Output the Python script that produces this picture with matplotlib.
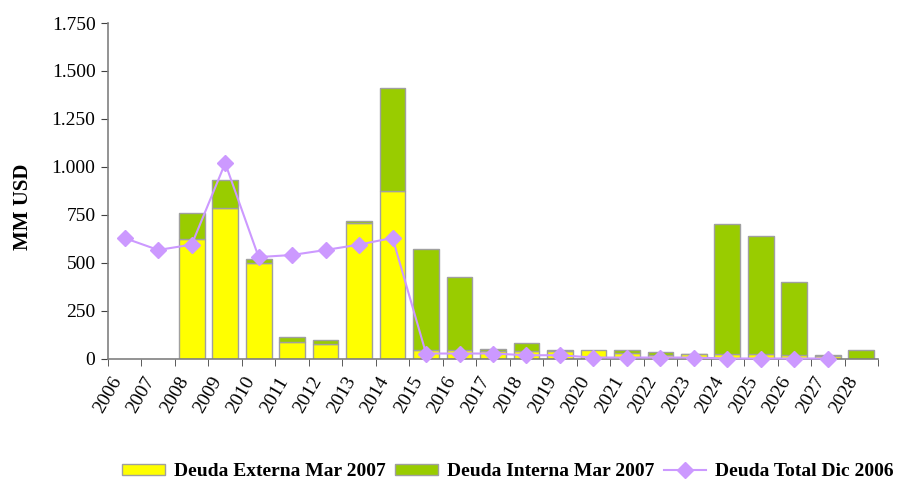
import numpy as np
import matplotlib.pyplot as plt
from matplotlib.ticker import FixedLocator, FuncFormatter

plt.rcParams['font.family'] = ['Liberation Serif', 'DejaVu Serif']

years = [str(y) for y in range(2006, 2029)]
# Deuda Externa Mar 2007 (MM USD)
externa = [0, 0, 625, 784, 500, 85, 78, 708, 873, 43, 43, 40, 40, 40,
           42, 30, 19, 24, 22, 24, 16, 15, 0]
# Deuda Interna Mar 2007 (MM USD)
interna = [0, 0, 136, 146, 21, 28, 17, 7, 538, 530, 380, 12, 40, 2,
           0, 13, 14, 2, 677, 615, 383, 2, 42]
# Deuda Total Dic 2006 (MM USD)
total_dic = [628, 566, 594, 1019, 529, 540, 566, 594, 629, 26, 26, 26, 17, 17,
             5, 5, 5, 5, 0, 0, 0, 0, np.nan]

yellow = '#FFFF00'
green = '#99CC00'
lilac = '#CC99FF'
edge = '#A0A0A0'

fig = plt.figure(figsize=(9.02, 4.8), dpi=100)
ax = fig.add_axes([108 / 902, 1 - 358.5 / 480, 770 / 902, 335.5 / 480])

x = np.arange(len(years))
ext = np.array(externa, dtype=float)
inn = np.array(interna, dtype=float)
w = 0.77

# skip empty segments so no zero-height outlines are drawn
m1 = ext > 0
m2 = inn > 0
b1 = ax.bar(x[m1], ext[m1], w, color=yellow, edgecolor=edge, linewidth=1, zorder=2)
b2 = ax.bar(x[m2], inn[m2], w, bottom=ext[m2], color=green, edgecolor=edge,
            linewidth=1, zorder=2)
ln, = ax.plot(x, total_dic, color=lilac, linewidth=1.5, marker='D', markersize=8.5,
              zorder=3, clip_on=False)

ax.set_xlim(-0.5, len(years) - 0.5)
ax.set_ylim(0, 1750)
ax.set_yticks(np.arange(0, 1751, 250))
ax.yaxis.set_major_formatter(FuncFormatter(lambda v, p: f'{int(v):,}'.replace(',', '.')))

ax.set_xticks(x)
ax.set_xticklabels(years, rotation=60, ha='right', va='top', fontsize=14)
ax.xaxis.set_minor_locator(FixedLocator(np.arange(-0.5, len(years), 1)))
ax.tick_params(axis='x', which='major', length=0, pad=11)
ax.tick_params(axis='x', which='minor', length=5, direction='out', color='#404040')
ax.tick_params(axis='y', length=5, direction='out', labelsize=14, color='#404040', pad=4)

for s in ['top', 'right']:
    ax.spines[s].set_visible(False)
for s in ['left', 'bottom']:
    ax.spines[s].set_color('#808080')
    ax.spines[s].set_linewidth(1.2)

fig.text(23 / 902, 1 - 207 / 480, 'MM USD', rotation=90, ha='center', va='center',
         fontsize=15, fontweight='bold')

fig.legend([b1, b2, ln],
           ['Deuda Externa Mar 2007', 'Deuda Interna Mar 2007', 'Deuda Total Dic 2006'],
           loc='center left', bbox_to_anchor=(122 / 902, 1 - 472 / 480), ncol=3,
           frameon=False, borderpad=0, borderaxespad=0, handlelength=2.2,
           handleheight=0.5, handletextpad=0.45, columnspacing=0.5,
           prop={'size': 14, 'weight': 'bold'})

fig.savefig('out.png', dpi=100)
